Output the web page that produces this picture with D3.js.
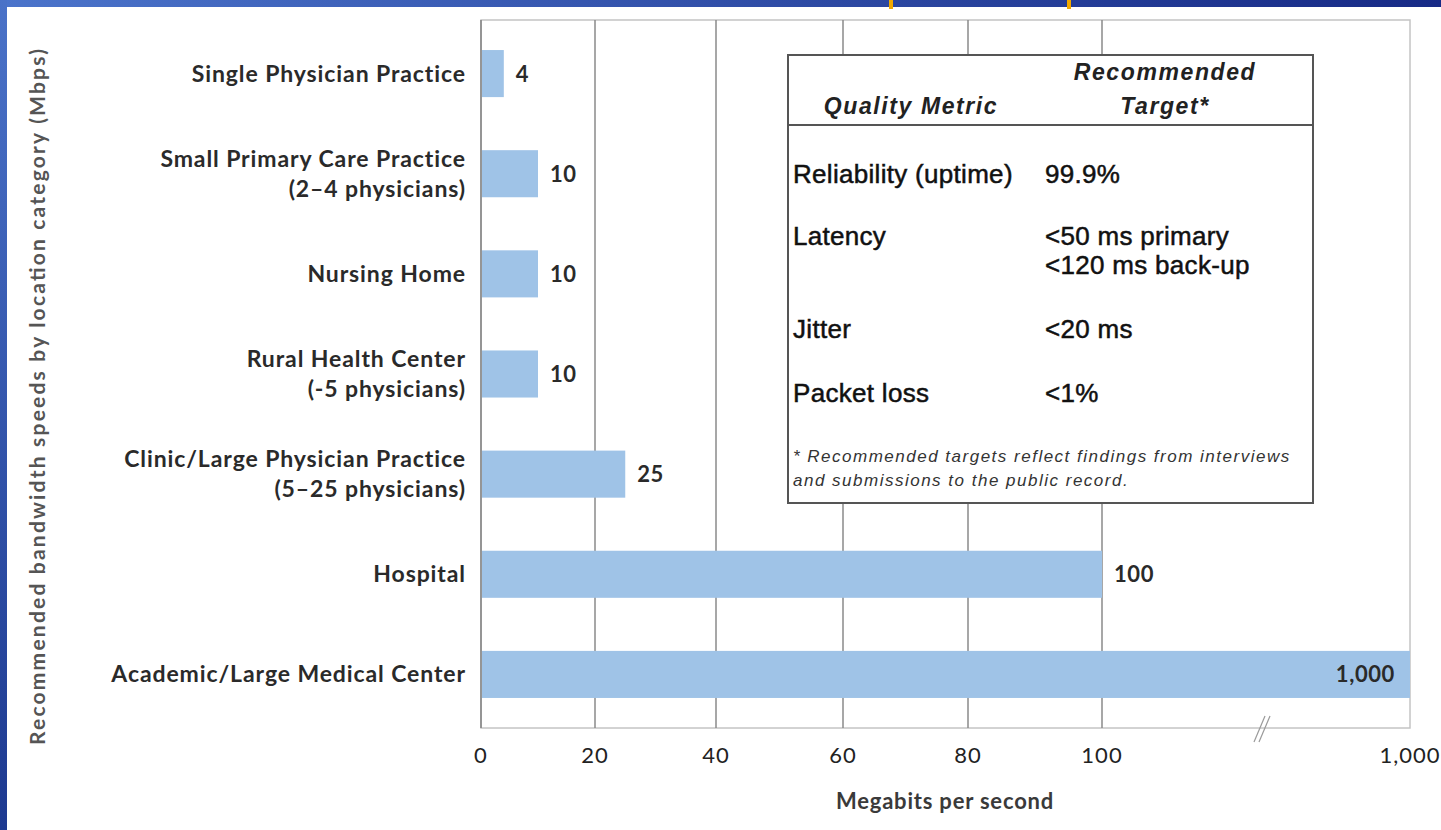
<!DOCTYPE html>
<html>
<head>
<meta charset="utf-8">
<script src="https://cdn.jsdelivr.net/npm/d3@7"></script>
<style>
  body { margin: 0; background: #fff; }
  svg { display: block; }
</style>
</head>
<body>
<div id="chart"></div>
<script>
// données du graphique
const categories = [
  ["Single Physician Practice"],
  ["Small Primary Care Practice", "(2–4 physicians)"],
  ["Nursing Home"],
  ["Rural Health Center", "(-5 physicians)"],
  ["Clinic/Large Physician Practice", "(5–25 physicians)"],
  ["Hospital"],
  ["Academic/Large Medical Center"]
];
const speeds = [4, 10, 10, 10, 25, 100, 1000];
const tickValues = [0, 20, 40, 60, 80, 100, 1000];
const tickLabels = ["0", "20", "40", "60", "80", "100", "1,000"];

// tableau des métriques
const metrics = ["Reliability (uptime)", "Latency", "Jitter", "Packet loss"];
const targets = [["99.9%"], ["<50 ms primary", "<120 ms back-up"], ["<20 ms"], ["<1%"]];
const footnote = ["* Recommended targets reflect findings from interviews", "and submissions to the public record."];

const W = 1441, H = 830;
const plot = {left: 481, right: 1410, top: 20, bottom: 728};
// l'axe est coupé après 100 : positions des graduations dans l'image
const tickX = [481, 595, 716, 843, 968, 1102, 1410];

const svg = d3.select("#chart").append("svg").attr("width", W).attr("height", H);

// fond type diapositive
const defs = svg.append("defs");
const gTop = defs.append("linearGradient").attr("id", "gTop");
gTop.append("stop").attr("offset", "0%").attr("stop-color", "#4b74cb");
gTop.append("stop").attr("offset", "100%").attr("stop-color", "#172a86");
const gLeft = defs.append("linearGradient").attr("id", "gLeft").attr("x1", 0).attr("y1", 0).attr("x2", 0).attr("y2", 1);
gLeft.append("stop").attr("offset", "0%").attr("stop-color", "#4a72c8");
gLeft.append("stop").attr("offset", "100%").attr("stop-color", "#1d3990");

svg.append("rect").attr("width", W).attr("height", H).attr("fill", "#fff");
svg.append("rect").attr("width", W).attr("height", 7).attr("fill", "url(#gTop)");
svg.append("rect").attr("width", 7).attr("height", H).attr("fill", "url(#gLeft)");
svg.selectAll("rect.orange").data([891, 1069]).join("rect")
  .attr("class", "orange").attr("x", d => d - 2).attr("y", 0).attr("width", 4).attr("height", 9)
  .attr("fill", "#f2a900");

const x = d3.scaleLinear().domain(tickValues).range(tickX);
const y = d3.scaleBand().domain(d3.range(categories.length))
  .range([plot.top, plot.bottom]).paddingInner(0.53).paddingOuter(0.3);

// cadre et grille
svg.append("rect").attr("x", plot.left).attr("y", plot.top)
  .attr("width", plot.right - plot.left).attr("height", plot.bottom - plot.top)
  .attr("fill", "none").attr("stroke", "#c4c4c4").attr("stroke-width", 1.5);
svg.selectAll("line.grid").data(tickValues.slice(1, -1)).join("line")
  .attr("class", "grid")
  .attr("x1", d => x(d)).attr("x2", d => x(d))
  .attr("y1", plot.top).attr("y2", plot.bottom)
  .attr("stroke", "#8a8a8a").attr("stroke-width", 1.5);
svg.append("line").attr("x1", plot.left).attr("x2", plot.left)
  .attr("y1", plot.top).attr("y2", plot.bottom)
  .attr("stroke", "#808080").attr("stroke-width", 1.5);

// barres
svg.selectAll("rect.bar").data(speeds).join("rect")
  .attr("class", "bar")
  .attr("x", x(0) + 1).attr("y", (d, i) => y(i))
  .attr("width", d => x(d) - x(0) - 1).attr("height", y.bandwidth())
  .attr("fill", "#9fc3e7");

// valeurs
const fmt = d3.format(",");
svg.selectAll("text.val").data(speeds).join("text")
  .attr("class", "val")
  .attr("x", d => d === 1000 ? x(d) - 15 : x(d) + 12)
  .attr("y", (d, i) => y(i) + y.bandwidth() / 2 + 8)
  .attr("text-anchor", d => d === 1000 ? "end" : "start")
  .style("font-family", "Lato, sans-serif").style("font-size", "22px").style("font-weight", "bold")
  .style("letter-spacing", "0.6px")
  .attr("fill", "#2a2a2a")
  .text(d => fmt(d));

// libellés des catégories
const catG = svg.selectAll("text.cat").data(categories).join("text")
  .attr("class", "cat")
  .attr("text-anchor", "end")
  .style("font-family", "Lato, sans-serif").style("font-size", "23px").style("font-weight", "bold")
  .style("letter-spacing", "0.9px")
  .attr("fill", "#2a2a2a");
catG.each(function(lines, i) {
  const c = y(i) + y.bandwidth() / 2;
  const t = d3.select(this);
  lines.forEach((l, k) => {
    const off = lines.length === 1 ? 8 : (k === 0 ? -7 : 23);
    t.append("tspan").attr("x", 466).attr("y", c + off).text(l);
  });
});

// graduations de l'axe x
svg.selectAll("text.tick").data(tickValues).join("text")
  .attr("class", "tick")
  .attr("x", d => x(d)).attr("y", 763)
  .attr("text-anchor", (d, i) => i === tickValues.length - 1 ? "middle" : "middle")
  .style("font-family", "Lato, sans-serif").style("font-size", "22px")
  .style("letter-spacing", "1px")
  .attr("fill", "#222")
  .text((d, i) => tickLabels[i]);

// marque de coupure
svg.selectAll("line.brk").data([0, 5]).join("line")
  .attr("class", "brk")
  .attr("x1", d => 1254 + d).attr("y1", 742)
  .attr("x2", d => 1265 + d).attr("y2", 716)
  .attr("stroke", "#9a9a9a").attr("stroke-width", 1.2);

// titres des axes
svg.append("text")
  .attr("x", 945).attr("y", 809).attr("text-anchor", "middle")
  .style("font-family", "Lato, sans-serif").style("font-size", "22px").style("font-weight", "bold")
  .style("letter-spacing", "0.8px")
  .attr("fill", "#3a3a3a")
  .text("Megabits per second");
svg.append("text")
  .attr("transform", "translate(45,397) rotate(-90)")
  .attr("text-anchor", "middle")
  .attr("textLength", 696).attr("lengthAdjust", "spacing")
  .style("font-family", "Lato, sans-serif").style("font-size", "21px").style("font-weight", "bold")
  .attr("fill", "#555")
  .text("Recommended bandwidth speeds by location category (Mbps)");

// encadré du tableau
const box = {x: 788, y: 55, w: 525, h: 448};
svg.append("rect").attr("x", box.x).attr("y", box.y).attr("width", box.w).attr("height", box.h)
  .attr("fill", "#fff").attr("stroke", "#555").attr("stroke-width", 2);
svg.append("line").attr("x1", box.x).attr("x2", box.x + box.w).attr("y1", 125).attr("y2", 125)
  .attr("stroke", "#555").attr("stroke-width", 2);

const tab = svg.append("g")
  .style("font-family", "'Liberation Sans', Arial, sans-serif").attr("fill", "#111");
const head = tab.append("g").style("font-size", "23px").style("font-weight", "bold")
  .style("font-style", "italic").style("letter-spacing", "1.6px").attr("text-anchor", "middle")
  .attr("fill", "#222");
head.append("text").attr("x", 911).attr("y", 114).text("Quality Metric");
head.append("text").attr("x", 1165).attr("y", 80).text("Recommended");
head.append("text").attr("x", 1165).attr("y", 114).text("Target*");

const rowY = [183, 245, 338, 402];
tab.selectAll("text.metric").data(metrics).join("text")
  .attr("class", "metric")
  .attr("x", 793).attr("y", (d, i) => rowY[i])
  .style("font-size", "26px").style("letter-spacing", "0.3px")
  .attr("stroke", "#111").attr("stroke-width", 0.5)
  .text(d => d);
tab.selectAll("text.target").data(targets).join("text")
  .attr("class", "target")
  .style("font-size", "26px").style("letter-spacing", "0.3px")
  .attr("stroke", "#111").attr("stroke-width", 0.5)
  .each(function(lines, i) {
    const t = d3.select(this);
    lines.forEach((l, k) => t.append("tspan").attr("x", 1045).attr("y", rowY[i] + k * 29).text(l));
  });
tab.selectAll("text.note").data(footnote).join("text")
  .attr("class", "note")
  .attr("x", 793).attr("y", (d, i) => 462 + i * 24)
  .style("font-size", "17px").style("font-style", "italic").style("letter-spacing", "1.5px")
  .attr("fill", "#333")
  .text(d => d);
</script>
</body>
</html>
